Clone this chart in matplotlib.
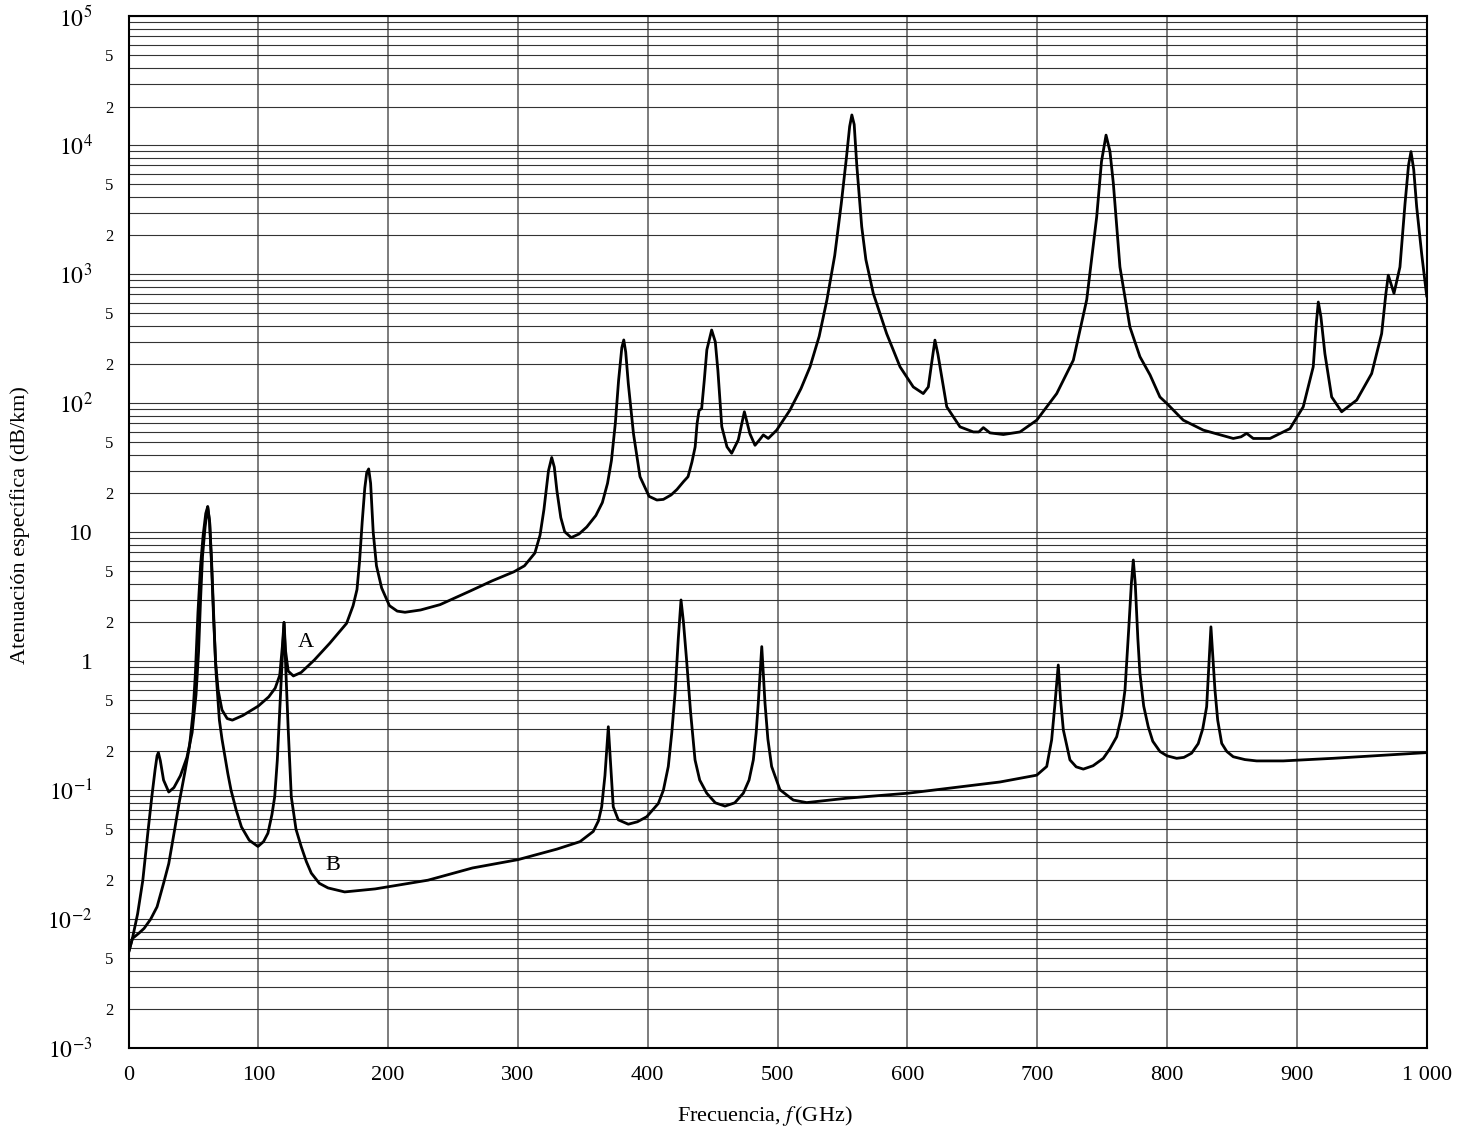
import matplotlib
matplotlib.use("Agg")
import matplotlib.pyplot as plt
import numpy as np

plt.rcParams['font.family'] = ['Liberation Serif', 'DejaVu Serif']
plt.rcParams['mathtext.fontset'] = 'stix'

# curve A (upper)
a_freq = [0, 3, 7, 11, 15, 18, 20.5, 22, 23, 24.5, 27, 31, 35, 40, 45, 49, 52, 54, 55.5, 57, 59, 61,
          62.5, 64, 65.5, 67, 69, 72, 76, 80, 88, 100, 108, 113, 116.5, 118.5, 119.8, 121, 123, 127,
          133, 143, 155, 168, 173, 176, 178, 180, 182, 183.5, 185, 186.5, 188.5, 191, 195, 201, 207,
          213, 225, 240, 263, 280, 297, 305, 313, 317, 320, 323.5, 326, 328, 330, 333, 336, 341, 347,
          353, 360, 365, 369, 372, 375, 377.5, 380, 381.5, 383, 385, 389, 394, 401, 407, 412, 418,
          422.5, 427.5, 431, 434, 436.5, 438, 439.5, 441.5, 443.5, 445.5, 449.2, 452, 454, 457, 461,
          464.6, 469.7, 474.4, 478.7, 482.6, 486, 489, 492.8, 499.3, 509.5, 518, 525, 532, 538, 544,
          549, 553, 555.5, 557.2, 559, 561, 564.8, 568, 573.7, 584, 594.3, 604.5, 612.2, 616.1, 618.5,
          621.2, 623.5, 625.1, 630.3, 640.5, 650.8, 655, 658.5, 663.6, 673.9, 686.7, 699.6, 715,
          727.8, 738.1, 745.8, 749.5, 753, 756, 758.6, 763.7, 771.4, 779.1, 786.9, 794.5, 799.7, 812.5,
          827.9, 851, 857, 861.3, 866.4, 879.3, 894.7, 904.9, 912.6, 915, 916.5, 918.5, 921.6, 926.8,
          934.5, 946.1, 957.6, 965.3, 968.5, 970.4, 974.8, 979.4, 983.3, 986, 987.9, 990, 992.3,
          996.1, 1000]
a_att = [0.0055, 0.0071, 0.011, 0.020, 0.048, 0.09, 0.145, 0.185, 0.196, 0.17, 0.12, 0.097, 0.105,
         0.13, 0.18, 0.28, 0.55, 1.2, 3, 6.5, 11, 15.8,
         12, 6, 2.5, 1.0, 0.6, 0.42, 0.36, 0.35, 0.38, 0.45, 0.53, 0.62, 0.78, 1.3, 2.0, 1.2, 0.84, 0.77,
         0.82, 1.02, 1.38, 1.97, 2.7, 3.6, 6, 12, 22, 29, 31, 24, 10, 5.5, 3.7, 2.7, 2.45,
         2.4, 2.5, 2.75, 3.5, 4.2, 4.95, 5.5, 6.9, 9.5, 15, 30, 38, 32, 21, 13, 10.1, 9.1, 9.7,
         11, 13.5, 17, 24, 36, 70, 150, 270, 310, 250, 142, 58, 27, 19, 17.8, 18, 19.5,
         21.5, 24.7, 27, 35, 46, 70, 88, 91, 150, 260, 370, 300, 180, 66, 46,
         41, 52, 86, 58, 47.3, 52, 56.9, 53.4, 62, 88.6, 130, 192, 330, 634, 1400,
         3500, 8000, 14000, 17200, 14500, 7000, 2340, 1300, 712, 347, 192, 134, 119, 134, 200,
         309, 240, 192, 94, 65.7, 60, 60, 64.8, 59, 57.3, 60, 74, 119,
         216, 634, 2790, 7500, 12000, 9000, 5100, 1140, 390, 230, 166, 112, 100, 74,
         62, 53.4, 55, 58.5, 53.4, 53.4, 63.7, 94, 192, 420, 610, 470, 242, 112,
         86, 106, 170, 347, 700, 985, 712, 1140, 3530, 7000, 8940, 6500, 3320,
         1450, 680]

# curve B (lower)
b_freq = [0, 3, 8, 12, 17, 22, 27, 31, 35.6, 39, 43.3, 47, 49.7, 51.5, 53.5, 55.5, 57.5, 59.5, 61,
          62.5, 64, 65.5, 67.5, 70, 72, 74, 76.5, 79, 83, 87, 93, 99.7, 104, 107.4, 110.5, 112.6,
          114.6, 116.4, 118.3, 119.8, 121.3, 123, 125.4, 129, 133, 137, 140.8, 147, 153.7, 166.5, 190,
          230.7, 265, 300,
          330, 347.8, 358, 362, 364.5, 367, 369.6, 371.5, 373.4, 377.3, 385, 392, 399.2, 408.1, 412,
          415.8, 418.5, 421, 423.5, 425.6, 427.5, 429.9, 433, 436.4, 440, 445.4, 452, 459.5, 467, 473.6,
          478, 481.3, 483.5, 485.1, 487.8, 490.3, 492.5, 495.4, 501.8, 512.1, 522.4, 553.2, 600.7,
          671.3, 699.6, 707.3, 711.1, 713.5, 716.2, 718, 720.1, 725.2, 730, 735.5, 743, 750.9, 756,
          761.2, 765, 767.6, 770.5, 772.5, 774, 775.5, 777.5, 779.1, 782, 785.5, 789, 794.5, 800,
          807.4, 813, 818.9, 824, 827.5, 830.5, 833.8, 836.9, 839, 842.1, 846, 851, 860, 869, 889.5,
          928, 1000]
b_att = [0.0055, 0.0071, 0.0078, 0.0085, 0.010, 0.0125, 0.019, 0.027, 0.05, 0.08, 0.136, 0.22, 0.40,
         0.8, 2.4, 5.5, 9.5, 14, 15.8,
         12, 5.5, 2.2, 0.8, 0.35, 0.25, 0.19, 0.135, 0.10, 0.07, 0.052, 0.041, 0.0367, 0.04, 0.0465,
         0.065, 0.089,
         0.17, 0.395, 0.95, 2.0, 0.8, 0.3, 0.089, 0.05, 0.0367, 0.028, 0.0228, 0.019, 0.0175, 0.0163,
         0.0172,
         0.0201, 0.025, 0.029,
         0.035, 0.040, 0.048, 0.058, 0.0745, 0.13, 0.311, 0.15, 0.0745, 0.059, 0.0546, 0.057, 0.0624,
         0.079, 0.1,
         0.153, 0.28, 0.565, 1.5, 2.99, 2.0, 1.02, 0.4, 0.172, 0.12, 0.095, 0.08, 0.0754, 0.08, 0.095,
         0.12, 0.172, 0.28, 0.473, 1.30, 0.473, 0.25, 0.153, 0.101, 0.084, 0.0803, 0.0868, 0.095,
         0.116, 0.131, 0.153, 0.246, 0.45, 0.936, 0.5, 0.294, 0.172, 0.152, 0.146, 0.155, 0.177, 0.21,
         0.26, 0.38, 0.60, 1.8, 4, 6.1, 4, 1.5, 0.807, 0.45, 0.311, 0.24, 0.20, 0.185,
         0.177, 0.18, 0.194, 0.23, 0.3, 0.445, 1.85, 0.60, 0.35, 0.231, 0.2, 0.182, 0.173, 0.169,
         0.169, 0.177, 0.196]

x_ticks = [0, 100, 200, 300, 400, 500, 600, 700, 800, 900, 1000]
x_labels = ['0', '100', '200', '300', '400', '500', '600', '700', '800', '900', '1 000']
exponents = [5, 4, 3, 2, 1, 0, -1, -2, -3]
major_labels = ['$10^{5}$', '$10^{4}$', '$10^{3}$', '$10^{2}$', '10', '1',
                '$10^{-1}$', '$10^{-2}$', '$10^{-3}$']

fig = plt.figure(figsize=(14.57, 11.35), dpi=100)
ax = fig.add_axes([0.0882, 0.0764, 0.891, 0.9092])

ax.plot(a_freq, a_att, color='black', lw=2.0, solid_joinstyle='round')
ax.plot(b_freq, b_att, color='black', lw=2.0, solid_joinstyle='round')

ax.set_yscale('log')
ax.set_xlim(0, 1000)
ax.set_ylim(1e-3, 1e5)

ax.set_xticks(x_ticks)
ax.set_xticklabels(x_labels)
ax.set_yticks([10.0 ** e for e in exponents])
ax.set_yticklabels(major_labels)

minor_pos = []
minor_lab = []
for e in range(-3, 5):
    for s in range(2, 10):
        minor_pos.append(s * 10.0 ** e)
        minor_lab.append(str(s) if s in (2, 5) else '')
ax.set_yticks(minor_pos, minor=True)
ax.set_yticklabels(minor_lab, minor=True)

ax.tick_params(axis='x', which='both', length=0, pad=13, labelsize=16)
ax.tick_params(axis='y', which='major', length=0, pad=26, labelsize=17)
ax.tick_params(axis='y', which='minor', length=0, pad=11, labelsize=12)

ax.grid(axis='y', which='both', color='#333333', lw=0.8)
ax.grid(axis='x', which='major', color='#666666', lw=1.2)
for sp in ax.spines.values():
    sp.set_linewidth(1.5)

ax.set_xlabel(r'Frecuencia, $f\,$(GHz)', fontsize=16, va='center')
ax.xaxis.set_label_coords(0.49, -0.066)
ax.set_ylabel('Atenuación específica (dB/km)', fontsize=16, va='center')
ax.yaxis.set_label_coords(-0.0836, 0.507)

ax.text(136.7, 1.39, 'A', fontsize=16, ha='center', va='center')
ax.text(157.5, 0.0259, 'B', fontsize=16, ha='center', va='center')

fig.savefig('out.png', dpi=100)
